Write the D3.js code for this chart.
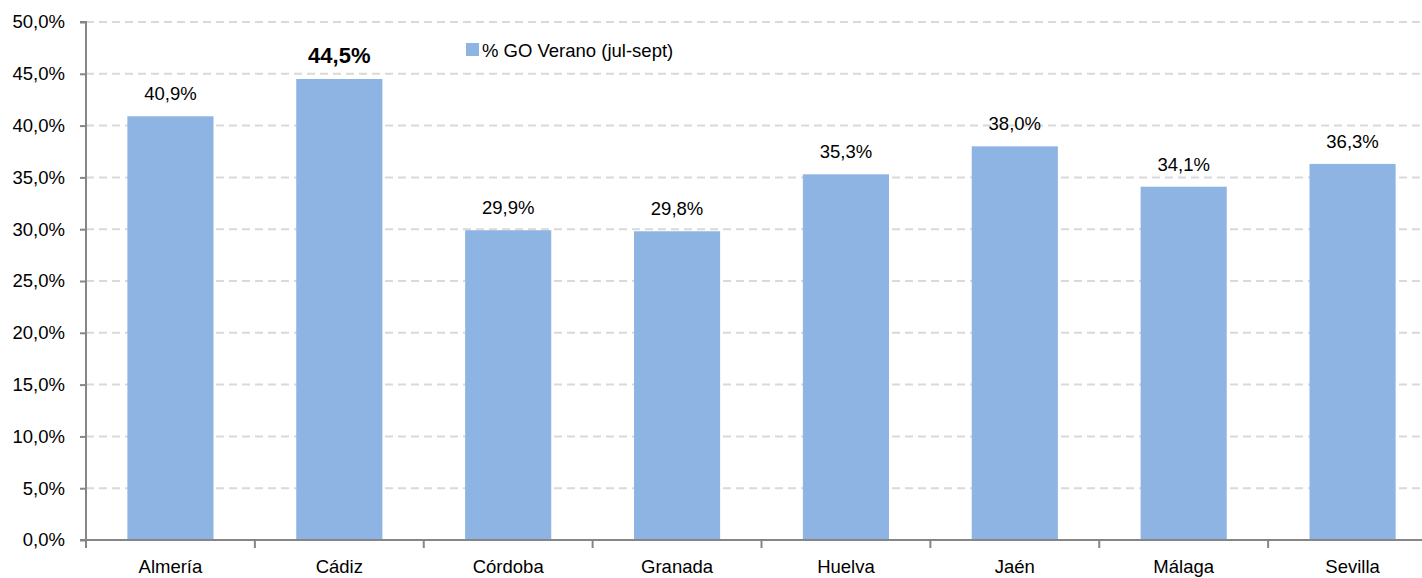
<!DOCTYPE html>
<html><head><meta charset="utf-8">
<script src="https://cdn.jsdelivr.net/npm/d3@7/dist/d3.min.js"></script>
<style>body{margin:0;background:#fff}svg{display:block}text{font-family:"Liberation Sans",Arial,sans-serif}</style>
</head><body><svg id="c" width="1422" height="578"></svg>
<script>
const categories = ["Almería","Cádiz","Córdoba","Granada","Huelva","Jaén","Málaga","Sevilla"];
const values = [40.9, 44.5, 29.9, 29.8, 35.3, 38.0, 34.1, 36.3];
const yTicks = [0,5,10,15,20,25,30,35,40,45,50];
const seriesName = "% GO Verano (jul-sept)";
const highlight = "Cádiz";

const svg = d3.select("#c");
const x0 = 86, x1 = 1437, yTop = 22, yBot = 540;
const fs = 18.5;
const x = d3.scaleBand().domain(categories).range([x0, x1]).paddingInner(0.49).paddingOuter(0.245);
const xb = d3.scaleBand().domain(categories).range([x0, x1]);
const y = d3.scaleLinear().domain([0, 50]).range([yBot, yTop]);
const fmt = v => v.toFixed(1).replace(".", ",") + "%";

// gridlines
svg.append("g").selectAll("line").data(yTicks.filter(t => t > 0)).join("line")
  .attr("x1", x0).attr("x2", 1422).attr("y1", d => y(d)).attr("y2", d => y(d))
  .attr("stroke", "#d9d9d9").attr("stroke-width", 2).attr("stroke-dasharray", "8,5");

// bars
svg.append("g").selectAll("rect").data(categories).join("rect")
  .attr("x", d => x(d)).attr("width", x.bandwidth())
  .attr("y", (d, i) => y(values[i])).attr("height", (d, i) => yBot - y(values[i]))
  .attr("fill", "#8db4e2");

// labels
svg.append("g").selectAll("text").data(categories).join("text")
  .attr("x", d => x(d) + x.bandwidth() / 2)
  .attr("y", (d, i) => y(values[i]) - 16)
  .attr("text-anchor", "middle")
  .attr("font-size", d => d === highlight ? 22 : fs)
  .attr("font-weight", d => d === highlight ? "bold" : "normal")
  .text((d, i) => fmt(values[i]));

// y axis
const yAxis = d3.axisLeft(y).tickValues(yTicks).tickSize(6).tickPadding(15).tickFormat(fmt);
const gy = svg.append("g").attr("transform", `translate(${x0},0)`).call(yAxis);
gy.select(".domain").attr("stroke", "#868686").attr("stroke-width", 2).attr("d", `M-6,${yTop}H0V${yBot}H-6`);
gy.selectAll(".tick line").attr("stroke", "#868686").attr("stroke-width", 2);
gy.selectAll(".tick text").attr("font-size", fs).attr("fill", "#000").attr("font-family", "Liberation Sans, Arial, sans-serif");

// x axis
svg.append("line").attr("x1", x0).attr("x2", 1422).attr("y1", yBot).attr("y2", yBot)
  .attr("stroke", "#868686").attr("stroke-width", 2);
svg.append("g").selectAll("line").data(categories).join("line")
  .attr("x1", d => xb(d)).attr("x2", d => xb(d)).attr("y1", yBot).attr("y2", yBot + 8)
  .attr("stroke", "#868686").attr("stroke-width", 2);
svg.append("g").selectAll("text").data(categories).join("text")
  .attr("x", d => xb(d) + xb.bandwidth() / 2).attr("y", 573)
  .attr("text-anchor", "middle").attr("font-size", fs).text(d => d);

// legend
svg.append("rect").attr("x", 466).attr("y", 43).attr("width", 13).attr("height", 13).attr("fill", "#8db4e2");
svg.append("text").attr("x", 482).attr("y", 57).attr("font-size", fs).text(seriesName);
</script></body></html>
